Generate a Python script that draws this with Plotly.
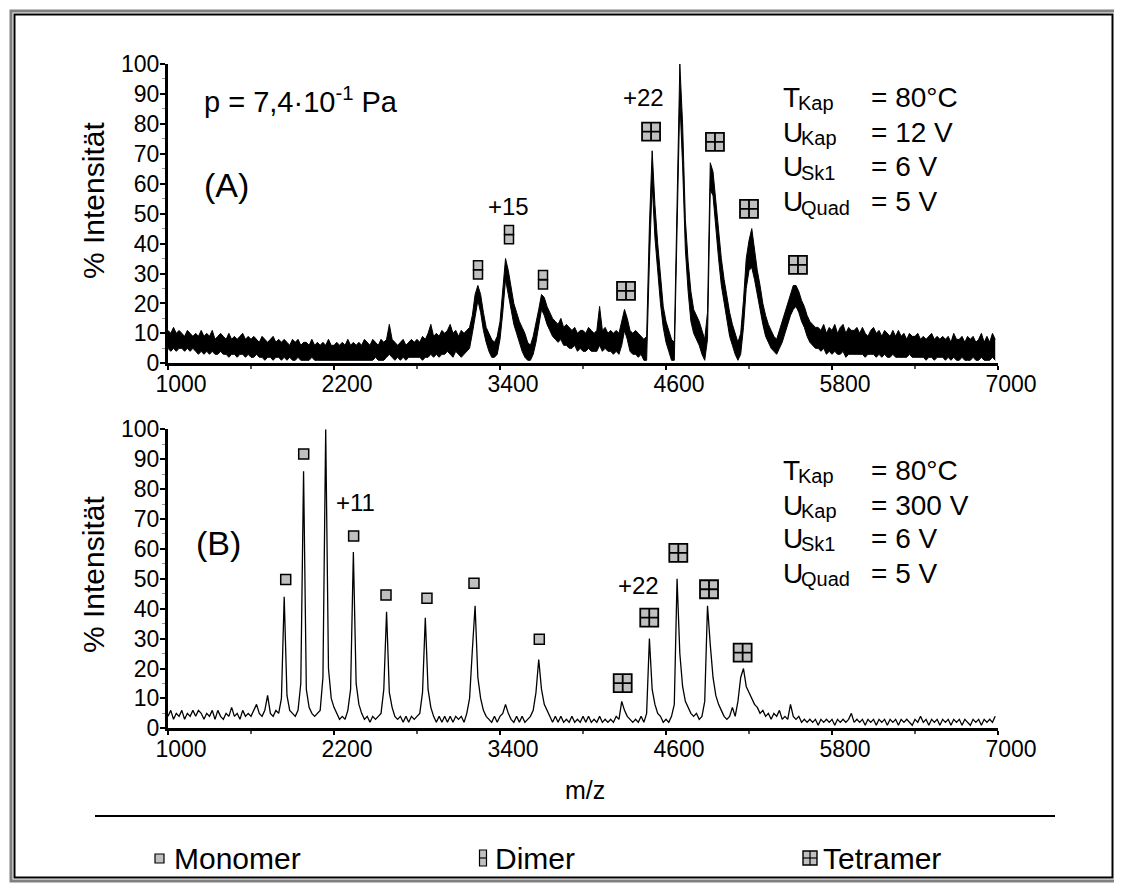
import plotly.graph_objects as go

# The page puts the figure 8 px in from the top-left corner of the window,
# so all pixel positions below are window pixels and are converted with OFF.
WIN_W, WIN_H, OFF = 1122, 884, 8
W, H = WIN_W - OFF, WIN_H - OFF
FONT = "Liberation Sans, Arial, sans-serif"

# ---------------- data ----------------
mz_start, mz_step = 1000, 20

# panel A: upper and lower edge of the drawn noise band, every 20 m/z from 1000
a_max = [
    11, 10, 12, 10, 11, 10, 9, 11, 10, 9,      # 1000
    10, 9, 11, 9, 10, 9, 11, 8, 9, 10,         # 1200
    9, 8, 10, 8, 9, 8, 9, 10, 8, 9,            # 1400
    8, 9, 8, 7, 9, 8, 7, 8, 9, 7,              # 1600
    8, 7, 8, 7, 6, 8, 7, 8, 6, 7,              # 1800
    7, 6, 8, 6, 7, 6, 7, 6, 8, 6,              # 2000
    6, 7, 6, 7, 6, 8, 6, 7, 6, 7,              # 2200
    6, 8, 7, 6, 8, 7, 6, 8, 7, 8,              # 2400
    13, 8, 7, 6, 7, 8, 6, 7, 8, 7,             # 2600
    8, 7, 9, 8, 10, 13, 9, 10, 9, 11,          # 2800
    10, 11, 13, 10, 11, 9, 11, 10, 11, 12,     # 3000
    16, 23, 26, 23, 17, 12, 10, 8, 7, 9,       # 3200
    14, 26, 35, 31, 25, 20, 17, 14, 12, 10,    # 3400
    7, 6, 9, 13, 18, 23, 22, 19, 17, 15,       # 3600
    14, 13, 15, 12, 13, 12, 11, 12, 10, 11,    # 3800
    11, 10, 12, 11, 10, 11, 19, 11, 12, 10,    # 4000
    11, 10, 11, 10, 14, 18, 15, 11, 10, 11,    # 4200
    10, 9, 8, 9, 46, 71, 53, 40, 28, 19,       # 4400
    14, 11, 8, 7, 55, 100, 80, 48, 34, 24,     # 4600
    18, 16, 14, 11, 8, 17, 67, 64, 54, 44,     # 4800
    35, 28, 22, 17, 13, 10, 7, 10, 21, 35,     # 5000
    41, 45, 37, 31, 26, 20, 16, 13, 11, 9,     # 5200
    8, 11, 14, 17, 20, 23, 26, 26, 24, 21,     # 5400
    19, 16, 14, 13, 12, 12, 11, 13, 10, 12,    # 5600
    11, 13, 10, 12, 13, 10, 12, 11, 11, 12,    # 5800
    10, 12, 10, 9, 11, 12, 10, 11, 9, 11,      # 6000
    10, 9, 11, 9, 11, 9, 10, 8, 10, 9,         # 6200
    9, 10, 8, 9, 8, 9, 10, 8, 9, 8,            # 6400
    9, 8, 9, 7, 10, 8, 8, 9, 7, 9,             # 6600
    8, 9, 7, 8, 10, 7, 9, 7, 10, 8,            # 6800
]
a_min = [
    5, 4, 5, 4, 5, 5, 4, 5, 4, 5,              # 1000
    4, 3, 4, 3, 4, 3, 4, 3, 3, 4,              # 1200
    3, 3, 2, 3, 3, 2, 3, 3, 2, 3,              # 1400
    2, 2, 3, 2, 2, 1, 2, 2, 1, 2,              # 1600
    2, 1, 2, 1, 2, 1, 1, 2, 1, 1,              # 1800
    1, 1, 2, 1, 1, 1, 1, 1, 1, 1,              # 2000
    1, 1, 1, 1, 1, 1, 1, 1, 1, 1,              # 2200
    1, 1, 1, 1, 1, 2, 1, 1, 1, 2,              # 2400
    3, 2, 1, 2, 1, 2, 1, 2, 2, 2,              # 2600
    2, 2, 1, 2, 2, 3, 2, 3, 2, 3,              # 2800
    3, 4, 3, 2, 4, 3, 2, 3, 4, 5,              # 3000
    10, 16, 21, 17, 11, 7, 4, 2, 2, 3,         # 3200
    8, 17, 28, 23, 18, 13, 10, 7, 4, 2,        # 3400
    1, 1, 3, 7, 13, 18, 16, 13, 11, 9,         # 3600
    8, 7, 8, 6, 6, 5, 5, 6, 4, 5,              # 3800
    4, 4, 5, 4, 4, 4, 6, 4, 5, 4,              # 4000
    4, 3, 4, 3, 6, 11, 8, 4, 3, 3,             # 4200
    2, 3, 1, 1, 34, 60, 42, 30, 20, 12,        # 4400
    7, 4, 1, 1, 45, 88, 66, 38, 24, 14,        # 4600
    10, 8, 6, 3, 1, 8, 58, 56, 44, 35,         # 4800
    26, 20, 14, 9, 6, 3, 1, 3, 12, 25,         # 5000
    31, 32, 28, 23, 17, 13, 9, 7, 5, 4,        # 5200
    3, 5, 7, 10, 13, 16, 18, 19, 17, 14,       # 5400
    12, 9, 7, 6, 5, 5, 4, 5, 3, 4,             # 5600
    3, 4, 3, 3, 4, 2, 3, 3, 3, 3,              # 5800
    3, 3, 2, 3, 3, 3, 2, 3, 2, 3,              # 6000
    2, 2, 3, 2, 2, 2, 2, 2, 3, 2,              # 6200
    2, 2, 2, 2, 1, 2, 2, 1, 2, 2,              # 6400
    2, 1, 2, 1, 2, 1, 1, 2, 1, 1,              # 6600
    1, 2, 1, 1, 2, 1, 1, 1, 2, 1,              # 6800
]

# panel B: a single noisy trace, every 20 m/z from 1000
intensity_b = [
    4, 6, 3, 5, 4, 6, 3, 5, 4, 6,          # 1000
    4, 6, 5, 3, 5, 4, 6, 3, 6, 4,          # 1200
    3, 5, 4, 7, 4, 5, 3, 6, 4, 5,          # 1400
    4, 6, 8, 5, 4, 6, 11, 5, 4, 6,         # 1600
    5, 10, 44, 11, 6, 5, 4, 6, 15, 86,     # 1800
    13, 7, 5, 4, 5, 6, 17, 100, 20, 10,    # 2000
    7, 5, 3, 4, 3, 6, 13, 59, 15, 8,       # 2200
    5, 3, 4, 2, 4, 3, 4, 5, 13, 39,        # 2400
    12, 7, 4, 3, 4, 2, 4, 2, 4, 3,         # 2600
    4, 5, 12, 37, 13, 7, 4, 2, 4, 2,       # 2800
    4, 2, 4, 2, 4, 3, 4, 2, 5, 10,         # 3000
    26, 41, 17, 10, 6, 4, 3, 2, 4, 2,      # 3200
    4, 5, 8, 5, 3, 2, 4, 2, 4, 2,          # 3400
    3, 4, 6, 12, 23, 13, 8, 6, 4, 2,       # 3600
    4, 2, 4, 2, 3, 2, 4, 2, 3, 2,          # 3800
    4, 2, 4, 2, 3, 2, 4, 2, 3, 2,          # 4000
    3, 2, 4, 3, 9, 6, 4, 3, 2, 3,          # 4200
    2, 4, 2, 5, 30, 13, 8, 5, 4, 2,        # 4400
    3, 2, 4, 8, 50, 25, 14, 9, 7, 5,       # 4600
    4, 5, 3, 4, 9, 41, 28, 17, 11, 8,      # 4800
    6, 4, 3, 4, 7, 4, 9, 17, 20, 14,       # 5000
    12, 10, 8, 7, 5, 6, 4, 5, 3, 5,        # 5200
    4, 6, 3, 4, 3, 8, 4, 3, 4, 2,          # 5400
    3, 2, 3, 2, 3, 1, 3, 2, 3, 2,          # 5600
    3, 1, 3, 2, 3, 2, 3, 5, 2, 3,          # 5800
    2, 3, 1, 3, 2, 3, 1, 3, 2, 3,          # 6000
    1, 3, 2, 3, 1, 3, 2, 3, 2, 1,          # 6200
    3, 2, 4, 2, 3, 1, 3, 2, 3, 1,          # 6400
    3, 2, 3, 1, 3, 2, 3, 1, 3, 2,          # 6600
    1, 3, 2, 3, 1, 3, 2, 3, 2, 4,          # 6800
]

mz_grid = [mz_start + mz_step * i for i in range(len(a_max))]

# species icons (position of the icon centre)
dimer_a_mz = [3241, 3465, 3711]
dimer_a_y = [31.2, 43.0, 27.9]
tetramer_a_mz = [4311, 4492, 4701, 4954, 5200, 5554]
tetramer_a_y = [24.2, 77.4, 106.8, 74.0, 51.6, 32.9]
monomer_b_mz = [1851, 1981, 2154, 2342, 2576, 2872, 3212, 3684]
monomer_b_y = [49.8, 91.7, 105.6, 64.3, 44.6, 43.5, 48.5, 29.8]
tetramer_b_mz = [4287, 4479, 4689, 4911, 5154]
tetramer_b_y = [15.1, 37.0, 58.7, 46.5, 25.3]

# charge-state labels
charge_a = [("+15", 3465, 52.3), ("+22", 4434, 88.7)]
charge_b = [("+11", 2352, 75.4), ("+22", 4400, 47.6)]

x_ticks = [1000, 2200, 3400, 4600, 5800, 7000]
param_main = ["T", "U", "U", "U"]
param_sub = ["Kap", "Kap", "Sk1", "Quad"]
param_vals_a = ["= 80°C", "= 12 V", "= 6 V", "= 5 V"]
param_vals_b = ["= 80°C", "= 300 V", "= 6 V", "= 5 V"]
legend_names = ["Monomer", "Dimer", "Tetramer"]

# ---------------- layout geometry (window pixels) ----------------
PX_L, PX_R = 168, 998
A_TOP, A_BOT = 64, 363.3
B_TOP, B_BOT = 429.3, 728.3


def px(x):
    return (x - OFF) / W


def py(y):
    return 1 - (y - OFF) / H


unit_px = (A_BOT - A_TOP) / 100.0
GRAY = "#c0c0c0"

fig = go.Figure()

fig.add_trace(go.Scatter(x=mz_grid, y=a_min, mode="lines", line=dict(color="black", width=1.0),
                         xaxis="x", yaxis="y", showlegend=False, hoverinfo="skip"))
fig.add_trace(go.Scatter(x=mz_grid, y=a_max, mode="lines", line=dict(color="black", width=1.0),
                         fill="tonexty", fillcolor="black",
                         xaxis="x", yaxis="y", showlegend=False))
fig.add_trace(go.Scatter(x=mz_grid, y=intensity_b, mode="lines",
                         line=dict(color="black", width=1.3),
                         xaxis="x2", yaxis="y2", showlegend=False))

# dimer icons: two stacked squares
half = 4.7 / unit_px
for dy in (half, -half):
    fig.add_trace(go.Scatter(x=dimer_a_mz, y=[v + dy for v in dimer_a_y], mode="markers",
                             marker=dict(symbol="square", size=9, color=GRAY,
                                         line=dict(color="black", width=1.5)),
                             xaxis="x", yaxis="y", cliponaxis=False, showlegend=False))
fig.add_trace(go.Scatter(x=tetramer_a_mz, y=tetramer_a_y, mode="markers",
                         marker=dict(symbol="square-cross", size=18, color=GRAY,
                                     line=dict(color="black", width=1.8)),
                         xaxis="x", yaxis="y", cliponaxis=False, showlegend=False))
fig.add_trace(go.Scatter(x=monomer_b_mz, y=monomer_b_y, mode="markers",
                         marker=dict(symbol="square", size=10, color=GRAY,
                                     line=dict(color="black", width=1.5)),
                         xaxis="x2", yaxis="y2", cliponaxis=False, showlegend=False))
fig.add_trace(go.Scatter(x=tetramer_b_mz, y=tetramer_b_y, mode="markers",
                         marker=dict(symbol="square-cross", size=18, color=GRAY,
                                     line=dict(color="black", width=1.8)),
                         xaxis="x2", yaxis="y2", cliponaxis=False, showlegend=False))

tickfont = dict(family=FONT, size=23, color="black")


def xaxis_cfg(anchor):
    return dict(domain=[px(PX_L), px(PX_R)], anchor=anchor, range=[1000, 7000],
                tickvals=x_ticks, ticks="outside", ticklen=4, tickwidth=2,
                tickcolor="black", showline=True, linewidth=3, linecolor="black",
                showgrid=False, zeroline=False, tickfont=tickfont, automargin=False,
                ticklabelshift=13, ticklabelstandoff=-6,
                minor=dict(dtick=600, tick0=1000, ticks="outside", ticklen=3,
                           tickwidth=1.5, tickcolor="#555"))


def yaxis_cfg(anchor, top, bot):
    return dict(domain=[py(bot), py(top)], anchor=anchor, range=[0, 100],
                dtick=10, ticks="outside", ticklen=5, tickwidth=2, tickcolor="black",
                showline=True, linewidth=3, linecolor="black", showgrid=False,
                zeroline=False, tickfont=tickfont, ticklabelstandoff=-4, automargin=False,
                minor=dict(dtick=5, ticks="outside", ticklen=3, tickwidth=1,
                           tickcolor="#999"))


fig.update_layout(
    width=W, height=H, margin=dict(l=0, r=0, t=0, b=0, pad=0, autoexpand=False),
    paper_bgcolor="white", plot_bgcolor="white", showlegend=False,
    xaxis=xaxis_cfg("y"), yaxis=yaxis_cfg("x", A_TOP, A_BOT),
    xaxis2=xaxis_cfg("y2"), yaxis2=yaxis_cfg("x2", B_TOP, B_BOT),
    font=dict(family=FONT, color="black"),
)

ann = []


def text(x, y, s, size, xanchor="center", yanchor="middle", angle=0):
    ann.append(dict(x=px(x), y=py(y), xref="paper", yref="paper", text=s,
                    showarrow=False, xanchor=xanchor, yanchor=yanchor,
                    font=dict(family=FONT, size=size, color="black"), textangle=angle))


# axis titles
text(93, 201, "% Intensität", 30, angle=-90)
text(93, 575, "% Intensität", 30, angle=-90)
text(585, 790, "m/z", 25)

# panel labels
text(202, 100, "p = 7,4·10<sup>-1</sup> Pa", 29, xanchor="left")
text(202, 185, "(A)", 34, xanchor="left")
text(194, 543, "(B)", 34, xanchor="left")

# parameter blocks: main letter, subscript and value placed separately
sub_x = {"T": 796, "U": 799}
for rows_y, vals in (([97, 132, 167, 202], param_vals_a), ([470, 505, 538, 573], param_vals_b)):
    for m, s, val, yy in zip(param_main, param_sub, vals, rows_y):
        text(781, yy, m, 28, xanchor="left")
        text(sub_x[m], yy + 6, s, 20, xanchor="left")
        text(869, yy, val, 28, xanchor="left")

# charge labels (data anchored)
for s, xm, yv in charge_a:
    ann.append(dict(x=xm, y=yv, xref="x", yref="y", text=s, showarrow=False,
                    font=dict(family=FONT, size=24, color="black")))
for s, xm, yv in charge_b:
    ann.append(dict(x=xm, y=yv, xref="x2", yref="y2", text=s, showarrow=False,
                    font=dict(family=FONT, size=24, color="black")))

# legend texts
legend_x = [172, 493, 821]
for name, lx in zip(legend_names, legend_x):
    text(lx, 858, name, 30, xanchor="left")

fig.update_layout(annotations=ann)

shapes = []


def rect(x0, y0, x1, y1, color="black", width=1.5, fill=None):
    shapes.append(dict(type="rect", xref="paper", yref="paper",
                       x0=px(x0), x1=px(x1), y0=py(y0), y1=py(y1),
                       line=dict(color=color, width=width),
                       fillcolor=fill if fill else "rgba(0,0,0,0)"))


def line(x0, y0, x1, y1, color="black", width=1.5):
    shapes.append(dict(type="line", xref="paper", yref="paper",
                       x0=px(x0), x1=px(x1), y0=py(y0), y1=py(y1),
                       line=dict(color=color, width=width)))


# outer double frame
rect(11, 11, 1116, 881, color="#808080", width=3)
rect(14.5, 14.5, 1112.5, 877.5, color="black", width=2)
# separator
line(95, 816, 1055, 816, width=2)
# legend keys
rect(155, 854, 164, 863, width=1.2, fill=GRAY)
rect(479.5, 850, 486.5, 866, width=1.2, fill=GRAY)
line(479.5, 858, 486.5, 858, width=1.2)
rect(803, 851, 817, 865, width=1.4, fill=GRAY)
line(810, 851, 810, 865, width=1.2)
line(803, 858, 817, 858, width=1.2)

fig.update_layout(shapes=shapes)

fig.write_html("out.html")
